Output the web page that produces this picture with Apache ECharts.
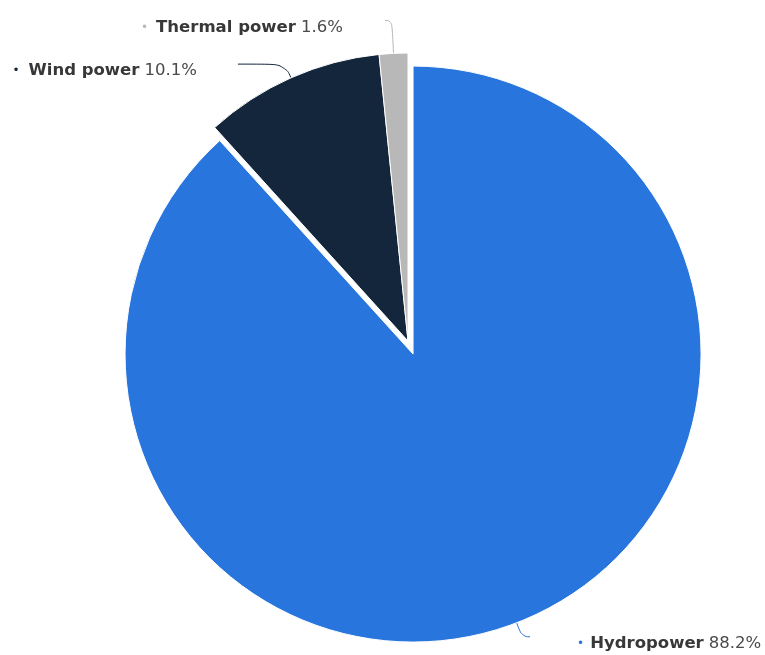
<!DOCTYPE html>
<html>
<head>
<meta charset="utf-8">
<title>Electricity generation by source</title>
<script src="https://cdn.jsdelivr.net/npm/echarts@6/dist/echarts.min.js"></script>
<style>
  html, body { margin: 0; padding: 0; background: #ffffff; }
  #chart { width: 765px; height: 655px; }
</style>
</head>
<body>
<div id="chart"></div>
<script>
// Share of electricity generation by source (%)
const categories = ['Hydropower', 'Wind power', 'Thermal power'];
const shares = [88.2, 10.1, 1.6];

// Slice colours, in the same order as the categories
const sliceColors = ['#2876dd', '#13263b', '#b8b8b8'];

// Connector geometry per slice: radial leg, horizontal leg, gap to the label,
// and the space kept after the coloured bullet
const connectors = [
  { length: 15, length2: 8, gap: 47, bulletPad: 1 },
  { length: 15, length2: 47, gap: 41, bulletPad: 4 },
  { length: 33, length2: 7, gap: 42, bulletPad: 3 }
];

const rich = {
  name: { fontFamily: 'DejaVu Sans', fontSize: 16.5, fontWeight: 'bold', color: '#383838' },
  val: { fontFamily: 'DejaVu Sans', fontSize: 16.5, color: '#4a4a4a' }
};
sliceColors.forEach((c, i) => {
  rich['dot' + i] = {
    fontFamily: 'DejaVu Sans', fontSize: 12, color: c,
    padding: [0, connectors[i].bulletPad, 0, 0]
  };
});

const data = categories.map((name, i) => ({
  name: name,
  value: shares[i],
  selected: i === 0,
  itemStyle: { color: sliceColors[i] },
  labelLine: {
    length: connectors[i].length,
    length2: connectors[i].length2,
    lineStyle: { color: sliceColors[i] }
  },
  label: { distanceToLabelLine: connectors[i].gap }
}));

const chart = echarts.init(document.getElementById('chart'), null, { renderer: 'canvas' });
chart.setOption({
  animation: false,
  backgroundColor: '#ffffff',
  series: [{
    type: 'pie',
    center: [408, 341],
    radius: [0, 288],
    startAngle: 90,
    clockwise: true,
    selectedMode: 'single',
    selectedOffset: 14,
    avoidLabelOverlap: false,
    itemStyle: { borderColor: '#ffffff', borderWidth: 1 },
    label: {
      show: true,
      position: 'outside',
      fontFamily: 'DejaVu Sans',
      fontSize: 16,
      padding: [14, 0, 0, 0],
      formatter: p => `{dot${p.dataIndex}|•} {name|${p.name}} {val|${p.value}%}`,
      rich: rich
    },
    labelLine: {
      show: true,
      smooth: 0.5,
      lineStyle: { width: 1 }
    },
    emphasis: { disabled: true },
    select: {
      itemStyle: { borderColor: '#ffffff', borderWidth: 1 }
    },
    data: data
  }]
});
</script>
</body>
</html>
